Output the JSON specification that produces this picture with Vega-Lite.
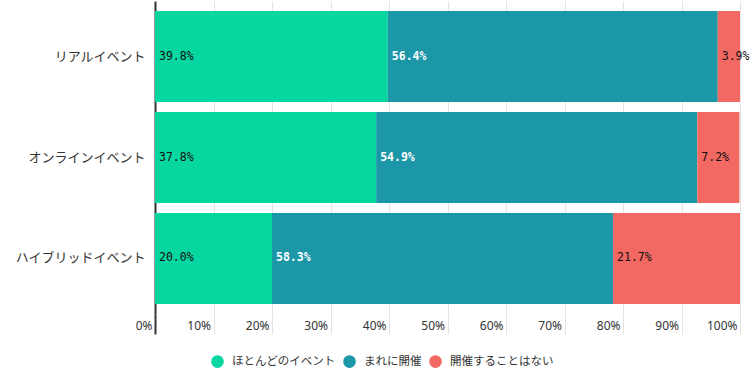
{
  "$schema": "https://vega.github.io/schema/vega-lite/v6.json",
  "width": 585,
  "height": 313,
  "autosize": {"type": "none"},
  "padding": {"left": 155, "top": 1, "right": 13, "bottom": 61},
  "background": "white",
  "config": {"view": {"stroke": null}},
  "data": {
    "values": [
      {"event": "リアルイベント", "category": "ほとんどのイベント", "order": 1, "value": 39.8},
      {"event": "リアルイベント", "category": "まれに開催", "order": 2, "value": 56.4},
      {"event": "リアルイベント", "category": "開催することはない", "order": 3, "value": 3.9},
      {"event": "オンラインイベント", "category": "ほとんどのイベント", "order": 1, "value": 37.8},
      {"event": "オンラインイベント", "category": "まれに開催", "order": 2, "value": 54.9},
      {"event": "オンラインイベント", "category": "開催することはない", "order": 3, "value": 7.2},
      {"event": "ハイブリッドイベント", "category": "ほとんどのイベント", "order": 1, "value": 20.0},
      {"event": "ハイブリッドイベント", "category": "まれに開催", "order": 2, "value": 58.3},
      {"event": "ハイブリッドイベント", "category": "開催することはない", "order": 3, "value": 21.7}
    ]
  },
  "transform": [
    {"stack": "value", "groupby": ["event"], "sort": [{"field": "order", "order": "ascending"}], "as": ["x0", "x1"]},
    {"calculate": "format(datum.value, '.1f') + '%'", "as": "label"}
  ],
  "encoding": {
    "y": {
      "field": "event",
      "type": "nominal",
      "sort": ["リアルイベント", "オンラインイベント", "ハイブリッドイベント"],
      "scale": {"paddingInner": 0.1, "paddingOuter": 0.1},
      "axis": {
        "title": null,
        "domain": true,
        "domainColor": "#333333",
        "domainWidth": 2,
        "ticks": false,
        "labelFont": "Noto Sans CJK JP",
        "labelFontSize": 13,
        "labelColor": "#333333",
        "labelPadding": 10
      }
    }
  },
  "layer": [
    {
      "mark": {"type": "bar", "clip": true},
      "encoding": {
        "x": {
          "field": "x0",
          "type": "quantitative",
          "scale": {"domain": [0, 100], "nice": false},
          "axis": {
            "title": null,
            "values": [0, 10, 20, 30, 40, 50, 60, 70, 80, 90, 100],
            "labelExpr": "datum.value + '%'",
            "grid": true,
            "gridColor": "#e3e3e3",
            "domain": false,
            "tickSize": 20,
            "tickColor": {"condition": {"test": "datum.value === 0", "value": "#333333"}, "value": "#e3e3e3"},
            "tickWidth": {"condition": {"test": "datum.value === 0", "value": 2}, "value": 1},
            "labelAlign": "right",
            "labelOffset": -3,
            "labelPadding": -14,
            "labelFont": "Noto Sans",
            "labelFontSize": 12,
            "labelColor": "#333333",
            "labelOverlap": false,
            "labelFlush": false
          }
        },
        "x2": {"field": "x1"},
        "color": {
          "field": "category",
          "type": "nominal",
          "sort": ["ほとんどのイベント", "まれに開催", "開催することはない"],
          "scale": {
            "domain": ["ほとんどのイベント", "まれに開催", "開催することはない"],
            "range": ["#06d6a0", "#1b97a8", "#f26862"]
          },
          "legend": {
            "title": null,
            "orient": "none",
            "legendX": 56,
            "legendY": 354,
            "direction": "horizontal",
            "symbolType": "circle",
            "symbolSize": 160,
            "symbolStrokeWidth": 0,
            "labelFont": "Noto Sans CJK JP",
            "labelFontSize": 11.5,
            "labelColor": "#333333",
            "labelOffset": 8,
            "columnPadding": 7
          }
        }
      }
    },
    {
      "transform": [{"filter": "datum.category !== 'まれに開催'"}],
      "mark": {"type": "text", "align": "left", "baseline": "middle", "dx": 4, "font": "DejaVu Sans Mono", "fontSize": 11.5, "color": "#111111"},
      "encoding": {
        "x": {"field": "x0", "type": "quantitative"},
        "text": {"field": "label"}
      }
    },
    {
      "transform": [{"filter": "datum.category === 'まれに開催'"}],
      "mark": {"type": "text", "align": "left", "baseline": "middle", "dx": 4, "font": "DejaVu Sans Mono", "fontSize": 11.5, "fontWeight": "bold", "color": "#ffffff"},
      "encoding": {
        "x": {"field": "x0", "type": "quantitative"},
        "text": {"field": "label"}
      }
    }
  ]
}
